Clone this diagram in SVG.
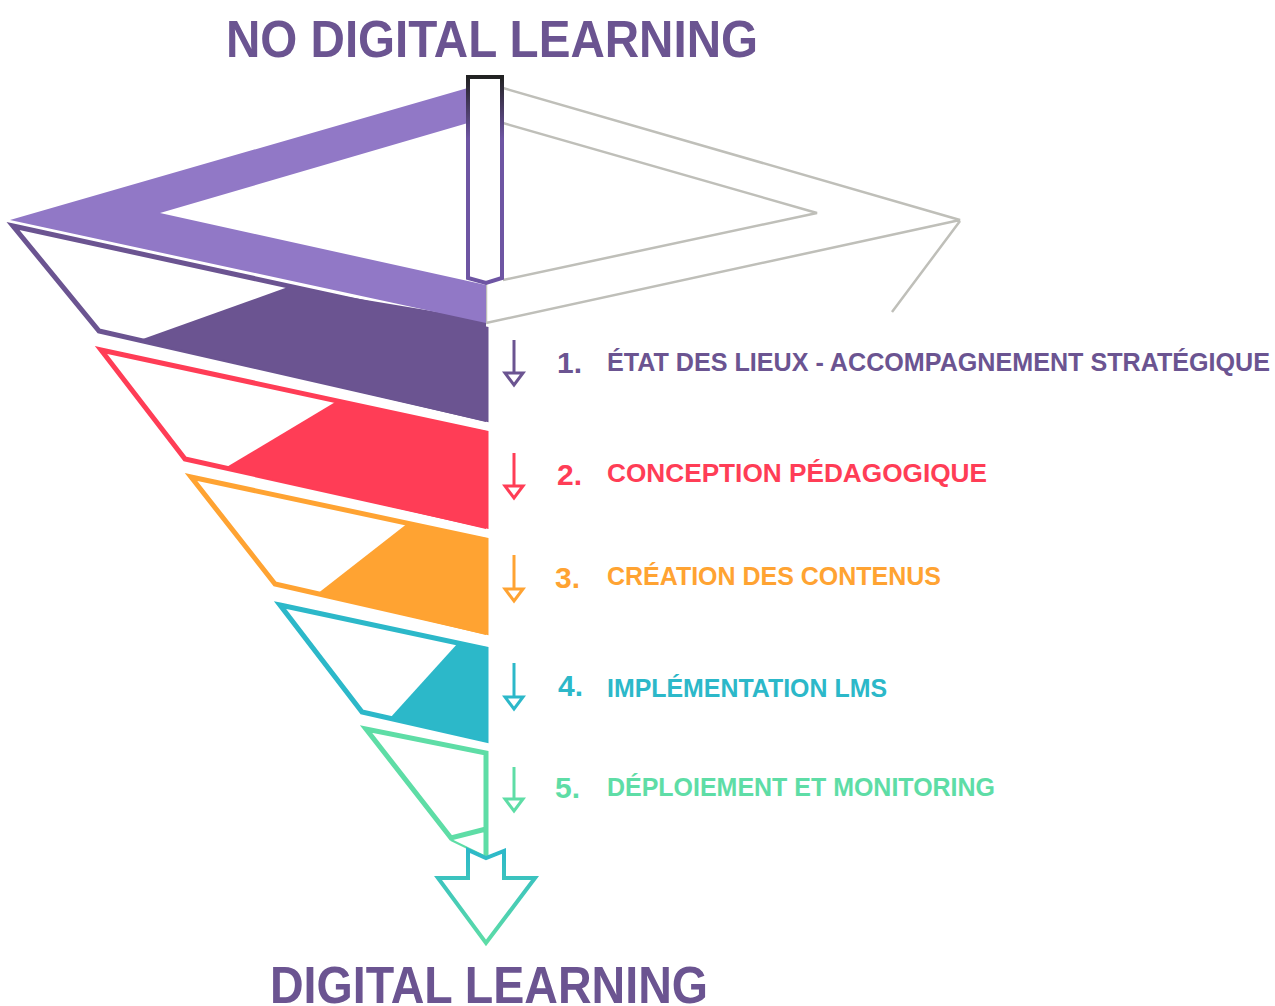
<svg xmlns="http://www.w3.org/2000/svg" width="1275" height="1006" viewBox="0 0 1275 1006">
<defs>
<linearGradient id="barGrad" gradientUnits="userSpaceOnUse" x1="0" y1="77" x2="0" y2="283">
<stop offset="0" stop-color="#222222"/><stop offset="0.3" stop-color="#6E55A3"/><stop offset="1" stop-color="#6E55A3"/>
</linearGradient>
<linearGradient id="arrowGrad" gradientUnits="userSpaceOnUse" x1="0" y1="850" x2="0" y2="944">
<stop offset="0" stop-color="#2CB8C9"/><stop offset="1" stop-color="#5EDDA6"/>
</linearGradient>
<style>
.title{font-family:"Liberation Sans",Arial,sans-serif;font-weight:700;font-size:52px;fill:#6B5491}
.num{font-family:"Liberation Sans",Arial,sans-serif;font-weight:700;font-size:30px}
.lbl{font-family:"Liberation Sans",Arial,sans-serif;font-weight:700;font-size:25px}
.outline{fill:#fff;stroke-width:5;stroke-linejoin:miter}
.gray{fill:none;stroke:#BFBFB9;stroke-width:2.5}
.sarrow{fill:#fff;stroke-width:3}
</style>
</defs>
<rect width="1275" height="1006" fill="#fff"/>

<text class="title" x="226" y="57" textLength="532" lengthAdjust="spacingAndGlyphs">NO DIGITAL LEARNING</text>

<g id="gray-frame">
<path class="gray" d="M503,88 L960,220 L486,323 M960,221 L892,312 M503,123 L817,213 L503,280 M486,283 V323"/>
</g>

<g id="layer1">
<polygon class="outline" stroke="#6B5491" stroke-width="5.5" points="13,226 486,329 486,419 99,331"/>
<polygon fill="#6B5491" points="288,287 140,340 486,422 486,320"/>
</g>

<g id="top-band">
<path fill="#9178C6" d="M485,83 L10,220 L486,323 L486,285 L160,213 L485,118 Z"/>
</g>

<g id="top-bar">
<path d="M468,77 L502,77 L502,278 L486,283 L468,278 Z" fill="#fff" stroke="url(#barGrad)" stroke-width="4"/>
</g>

<g id="layer2">
<polygon class="outline" stroke="#FF3D56" points="101,350 486,433 486,526 185,459"/>
<polygon fill="#FF3D56" points="337,401 225,468 486,529 486,431"/>
</g>

<g id="layer3">
<polygon class="outline" stroke="#FFA332" points="191,477 486,540 486,632 275,584"/>
<polygon fill="#FFA332" points="408,523 317,594 486,635 486,538"/>
</g>

<g id="layer4">
<polygon class="outline" stroke="#2CB8C9" points="280,605 486,649 486,740 362,712"/>
<polygon fill="#2CB8C9" points="458,643 390,718 486,742 486,647"/>
</g>

<g id="layer5">
<path fill="#fff" stroke="#5EDDA6" stroke-width="5" stroke-linejoin="miter" d="M486,857 L486,753 L366,729 L451,838 L486,829"/>
<path fill="none" stroke="#5EDDA6" stroke-width="2" d="M451,840 L486,857"/>
</g>

<g id="bottom-arrow">
<path d="M468,850 L486,858 L504,851 L504,878 L535,878 L486,943 L438,878 L468,878 Z" fill="#fff" stroke="url(#arrowGrad)" stroke-width="4" stroke-linejoin="miter"/>
</g>

<g id="connectors">
<g stroke="#6B5491"><path d="M514,340 V372" stroke-width="3"/><polygon class="sarrow" points="505,373 523,373 514,385"/></g>
<g stroke="#FF3D56"><path d="M514,453 V485" stroke-width="3"/><polygon class="sarrow" points="505,486 523,486 514,498"/></g>
<g stroke="#FFA332"><path d="M514,555 V588" stroke-width="3"/><polygon class="sarrow" points="505,589 523,589 514,601"/></g>
<g stroke="#2CB8C9"><path d="M514,663 V696" stroke-width="3"/><polygon class="sarrow" points="505,697 523,697 514,709"/></g>
<g stroke="#5EDDA6"><path d="M514,767 V798" stroke-width="3"/><polygon class="sarrow" points="505,799 523,799 514,811"/></g>
</g>

<g id="step1" fill="#6B5491">
<text class="num" x="557" y="373">1.</text>
<text class="lbl" x="607" y="371" textLength="663" lengthAdjust="spacingAndGlyphs">ÉTAT DES LIEUX - ACCOMPAGNEMENT STRATÉGIQUE</text>
</g>
<g id="step2" fill="#FF3D56">
<text class="num" x="557" y="485">2.</text>
<text class="lbl" x="607" y="482" textLength="380" lengthAdjust="spacingAndGlyphs">CONCEPTION PÉDAGOGIQUE</text>
</g>
<g id="step3" fill="#FFA332">
<text class="num" x="555" y="588">3.</text>
<text class="lbl" x="607" y="585" textLength="334" lengthAdjust="spacingAndGlyphs">CRÉATION DES CONTENUS</text>
</g>
<g id="step4" fill="#2CB8C9">
<text class="num" x="558" y="696">4.</text>
<text class="lbl" x="607" y="697" textLength="280" lengthAdjust="spacingAndGlyphs">IMPLÉMENTATION LMS</text>
</g>
<g id="step5" fill="#5EDDA6">
<text class="num" x="555" y="798">5.</text>
<text class="lbl" x="607" y="796" textLength="388" lengthAdjust="spacingAndGlyphs">DÉPLOIEMENT ET MONITORING</text>
</g>

<text class="title" x="270" y="1003" textLength="438" lengthAdjust="spacingAndGlyphs">DIGITAL LEARNING</text>
</svg>
